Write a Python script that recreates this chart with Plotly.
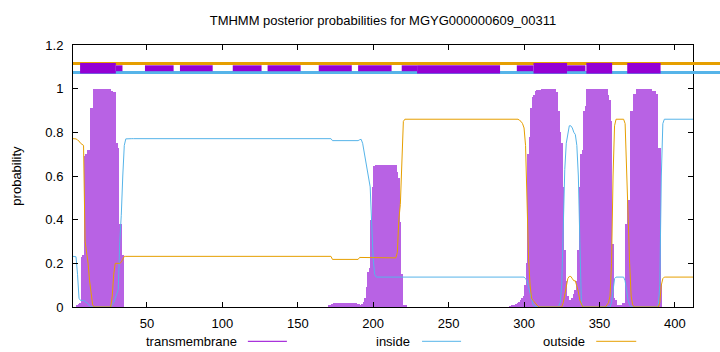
import plotly.graph_objects as go

# ---------------- data ----------------
transmembrane = (
    [0, 0, 0, 0.01, 0.015, 0.02, 0.23, 0.24, 0.69, 0.70, 0.72, 0.72, 0.91, 0.91]
    + [1.0] * 11
    + [0.997, 0.99, 0.983, 0.983, 0.75, 0.73, 0.38, 0.38, 0.24]
    + [0.0] * 136
    + [0.005, 0.008, 0.012] + [0.02] * 16 + [0.015]
    + [0.012, 0.01, 0.012, 0.025, 0.04, 0.09, 0.16, 0.18, 0.40, 0.55]
    + [0.645] + [0.649] * 14
    + [0.62, 0.59, 0.39, 0.15]
    + [0.01, 0.008, 0.005]
    + [0.0] * 68
    + [0.003, 0.005, 0.008, 0.01, 0.015, 0.02, 0.025, 0.03, 0.04, 0.05]
    + [0.10, 0.20, 0.70, 0.78, 0.91, 0.96, 0.97, 0.99, 0.995, 0.995, 0.995]
    + [1.0] * 10
    + [0.985, 0.90, 0.80, 0.75, 0.55, 0.26, 0.12, 0.05, 0.03, 0.03, 0.04, 0.06, 0.08, 0.12, 0.26, 0.55]
    + [0.70, 0.72, 0.90, 0.92]
    + [1.0] * 14
    + [0.97, 0.95, 0.85, 0.29, 0.04, 0.03]
    + [0.005, 0.005, 0.008, 0.01, 0.02, 0.02]
    + [0.38, 0.49, 0.49, 0.90, 0.90, 0.977, 0.977]
    + [1.0] * 10
    + [0.99, 0.99, 0.99, 0.977, 0.73, 0.73]
    + [0.1]
    + [0.0] * 21
)

inside = (
    [0.232, 0.232, 0.23]
    + [0.15, 0.04, 0.03, 0.03, 0.03, 0.025, 0.02, 0.015]
    + [0.005]
    + [0.0] * 14
    + [0.01, 0.02, 0.04, 0.06, 0.08, 0.30, 0.42, 0.60, 0.74, 0.77]
    + [0.771] * 136
    + [0.762] * 18
    + [0.766, 0.768]
    + [0.75, 0.71, 0.67, 0.62, 0.58, 0.55, 0.38, 0.22, 0.15]
    + [0.137] * 99
    + [0.13, 0.12, 0.09, 0.06, 0.03, 0.01, 0.005, 0.002]
    + [0.0] * 14
    + [0.005, 0.02, 0.10, 0.38, 0.63, 0.75, 0.80, 0.83, 0.83, 0.82, 0.80, 0.79, 0.74, 0.60, 0.30, 0.02]
    + [0.0] * 19
    + [0.02, 0.08, 0.13]
    + [0.137] * 6
    + [0.12, 0.07, 0.03, 0.01, 0.0]
    + [0.0] * 17
    + [0.01, 0.1, 0.6, 0.84]
    + [0.86] * 20
)

outside = (
    [0.771, 0.771, 0.77, 0.765, 0.76, 0.75, 0.745, 0.74]
    + [0.30, 0.25, 0.20, 0.12, 0.05, 0.01]
    + [0.0] * 12
    + [0.05, 0.15, 0.20, 0.20, 0.20, 0.20, 0.205, 0.22, 0.232, 0.232]
    + [0.232] * 136
    + [0.218] * 18 + [0.227] * 7 + [0.225] * 18
    + [0.25, 0.40, 0.47, 0.70, 0.85, 0.86]
    + [0.86] * 75
    + [0.855, 0.85, 0.84, 0.82, 0.74, 0.50, 0.22, 0.10, 0.04, 0.03, 0.02, 0.01, 0.005, 0.0]
    + [0.0] * 15
    + [0.02, 0.06, 0.11, 0.13, 0.14, 0.14, 0.13, 0.12, 0.12, 0.10, 0.07, 0.03, 0.01]
    + [0.0] * 16
    + [0.01, 0.02, 0.05, 0.20, 0.60, 0.83]
    + [0.86] * 6
    + [0.84, 0.60, 0.45, 0.20, 0.05, 0.01]
    + [0.0] * 17
    + [0.02, 0.10, 0.13]
    + [0.137] * 20
)

residues = list(range(1, len(transmembrane) + 1))
res_in = list(range(1, len(inside) + 1))
res_out = list(range(1, len(outside) + 1))

x_ticks = [50, 100, 150, 200, 250, 300, 350, 400]
y_ticks = [0, 0.2, 0.4, 0.6, 0.8, 1.0, 1.2]
y_tick_labels = ["0", "0.2", "0.4", "0.6", "0.8", "1", "1.2"]

# top band segments (residue start, end)
band_big = [(5.7, 29.4), (306.3, 328.5), (341.3, 358.4), (368.4, 390.5)]
band_mid = [(229.1, 284.1)]
band_small = [(29.4, 33.8), (48.7, 67.7), (71.9, 93.6), (106.9, 126.0), (130.0, 151.9),
              (163.9, 185.8), (190.0, 212.2), (218.9, 229.1), (295.2, 306.3), (328.5, 340.7)]

PURPLE = "#9400D3"
BAR_PURPLE = "#b862e4"
BLUE = "#56B4E9"
ORANGE = "#E69F00"
FONT = "Liberation Sans, Arial, sans-serif"

# ---------------- figure ----------------
W, H = 720, 352
L, R, T, B = 73.3, 692.7, 44.7, 306.7

fig = go.Figure()
fig.add_trace(go.Bar(x=residues, y=transmembrane, width=1.0, name="transmembrane",
                     marker=dict(color=BAR_PURPLE, line=dict(width=0)),
                     showlegend=False))
fig.add_trace(go.Scatter(x=res_in, y=inside, mode="lines", name="inside",
                         line=dict(color=BLUE, width=1), showlegend=False))
fig.add_trace(go.Scatter(x=res_out, y=outside, mode="lines", name="outside",
                         line=dict(color=ORANGE, width=1), showlegend=False))

def px2paper_x(px):
    return (px - L) / (R - L)

def px2paper_y(py):
    return (B - py) / (B - T)

shapes = []
# top band lines
shapes.append(dict(type="line", xref="paper", yref="y", x0=0, x1=px2paper_x(720),
                   y0=1.115, y1=1.115, line=dict(color=ORANGE, width=3)))
shapes.append(dict(type="line", xref="paper", yref="y", x0=0, x1=px2paper_x(720),
                   y0=1.0735, y1=1.0735, line=dict(color=BLUE, width=3)))
for a, b in band_small:
    shapes.append(dict(type="rect", xref="x", yref="y", x0=a, x1=b, y0=1.080, y1=1.107,
                       fillcolor=PURPLE, line=dict(width=0)))
for a, b in band_mid:
    shapes.append(dict(type="rect", xref="x", yref="y", x0=a, x1=b, y0=1.069, y1=1.107,
                       fillcolor=PURPLE, line=dict(width=0)))
for a, b in band_big:
    shapes.append(dict(type="rect", xref="x", yref="y", x0=a, x1=b, y0=1.069, y1=1.118,
                       fillcolor=PURPLE, line=dict(width=0)))

# legend samples
legend_items = [("transmembrane", PURPLE, 239, 248, 287),
                ("inside", BLUE, 412, 422, 461),
                ("outside", ORANGE, 587, 596, 636)]
annotations = []
ly = px2paper_y(341)
for name, col, tx, lx0, lx1 in legend_items:
    annotations.append(dict(text=name, xref="paper", yref="paper", x=px2paper_x(tx), y=ly,
                            xanchor="right", yanchor="middle", showarrow=False,
                            font=dict(family=FONT, size=13, color="black")))
    shapes.append(dict(type="line", xref="paper", yref="paper", x0=px2paper_x(lx0),
                       x1=px2paper_x(lx1), y0=ly, y1=ly, line=dict(color=col, width=1)))

fig.update_layout(
    width=W, height=H,
    margin=dict(l=L, r=W - R, t=T, b=H - B, pad=0),
    paper_bgcolor="white", plot_bgcolor="white",
    font=dict(family=FONT, size=13, color="black"),
    title=dict(text="TMHMM posterior probabilities for MGYG000000609_00311",
               x=px2paper_x(383), xref="paper", xanchor="center",
               y=1 - 20 / H, yref="container", yanchor="middle",
               font=dict(family=FONT, size=13, color="black")),
    bargap=0,
    shapes=shapes,
    annotations=annotations,
    showlegend=False,
)
fig.update_xaxes(range=[1, 412], tickvals=x_ticks, ticks="inside", ticklen=5,
                 showline=True, linecolor="black", linewidth=1, mirror="ticks",
                 showgrid=False, zeroline=False, tickcolor="black",
                 ticklabelstandoff=4, tickfont=dict(family=FONT, size=13))
fig.update_yaxes(range=[0, 1.2], tickvals=y_ticks, ticktext=y_tick_labels, ticks="inside",
                 ticklen=5, showline=True, linecolor="black", linewidth=1, mirror="ticks",
                 showgrid=False, zeroline=False, tickcolor="black",
                 ticklabelstandoff=6, tickfont=dict(family=FONT, size=13),
                 title=dict(text="probability", standoff=20,
                            font=dict(family=FONT, size=13)))

fig.write_html("out.html")
